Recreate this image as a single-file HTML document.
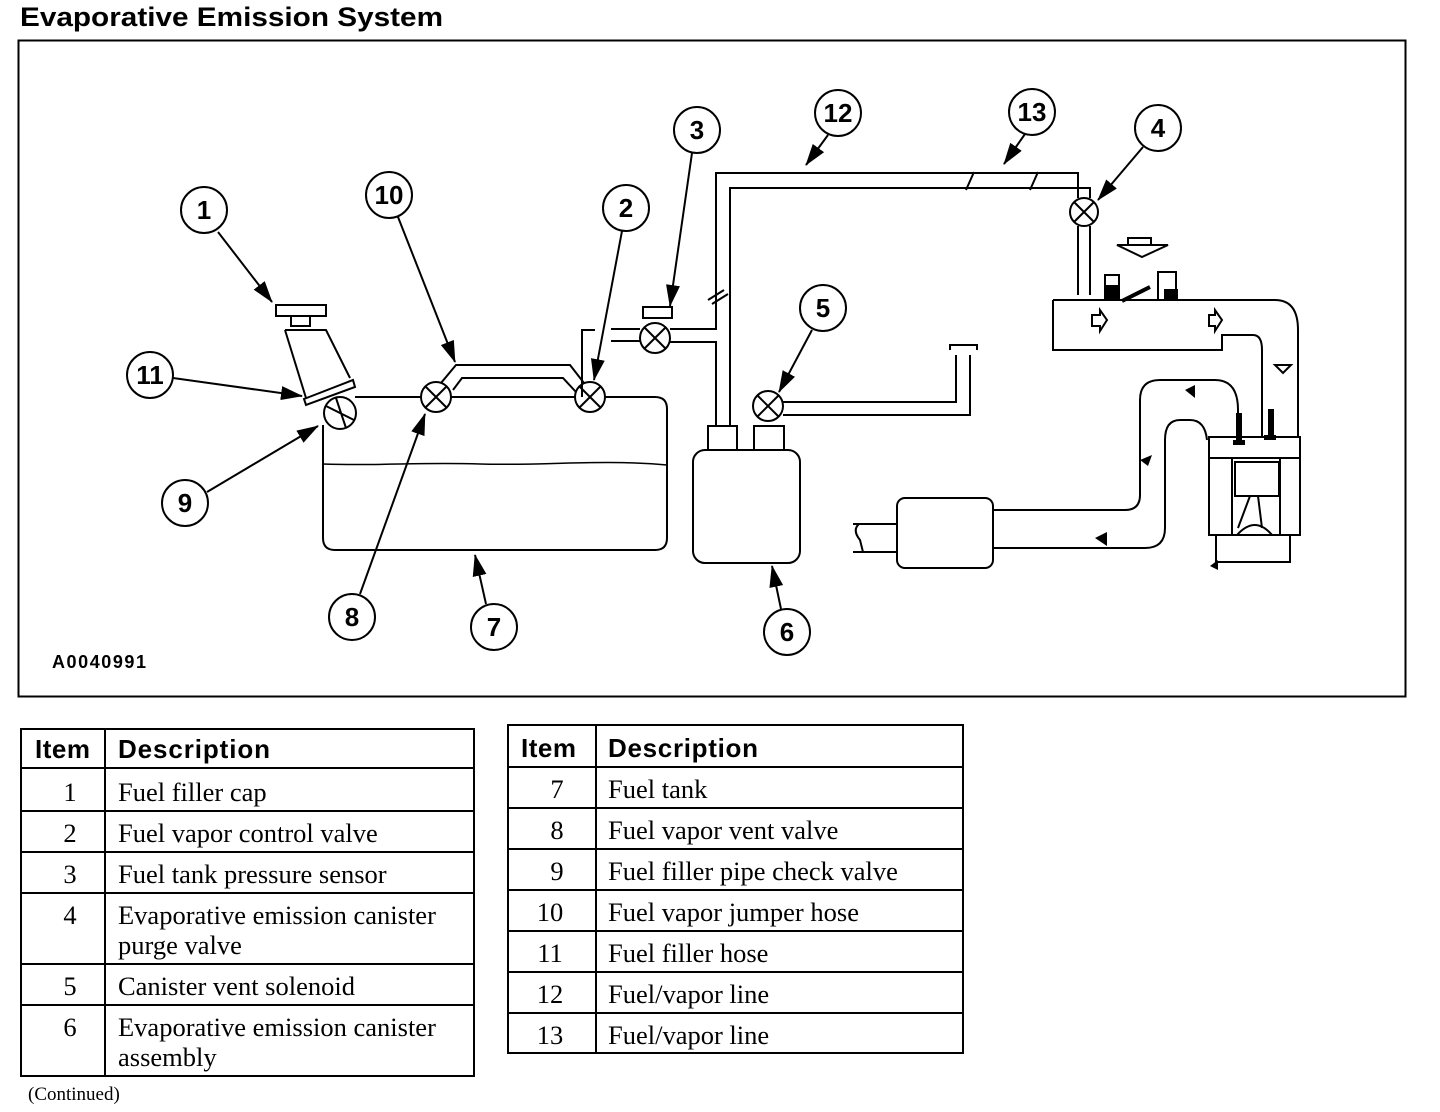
<!DOCTYPE html>
<html><head><meta charset="utf-8"><style>
body{margin:0;background:#fff;}
svg{display:block}
.t{font-family:"Liberation Sans",sans-serif;font-weight:bold}
.s{font-family:"Liberation Serif",serif;font-size:26.5px}
</style></head><body>
<svg width="1440" height="1112" viewBox="0 0 1440 1112" xmlns="http://www.w3.org/2000/svg">
<defs><marker id="A" markerWidth="22" markerHeight="14" refX="21" refY="7" orient="auto" markerUnits="userSpaceOnUse"><path d="M0,0L22,7L0,14z" fill="#000"/></marker></defs>
<text x="20" y="26" class="t" font-size="27" textLength="423" lengthAdjust="spacingAndGlyphs">Evaporative Emission System</text>
<rect x="18.5" y="40.5" width="1387" height="656" fill="none" stroke="#000" stroke-width="2"/>
<g fill="none" stroke="#000" stroke-width="2">
<path d="M355,397H655q12,0 12,12V538q0,12-12,12H335q-12,0-12-12V425"/>
<path d="M323,464C380,466 420,462 480,464S600,459 667,465" stroke-width="1.5"/>
<rect x="276" y="305" width="50" height="11"/><rect x="291" y="316" width="19" height="10"/>
<path d="M285,330H326L350,378M285,330L306,398"/>
<path d="M304,399L353,380L355,387L306,405Z" fill="#fff"/>
<circle cx="340" cy="413" r="16"/><path d="M326,406L354,420M336,398L346,428"/>
<circle cx="436" cy="397" r="15" fill="#fff"/><path d="M426,387L446,407M446,387L426,407"/>
<circle cx="590" cy="397" r="15" fill="#fff"/><path d="M580,387L600,407M600,387L580,407"/>
<path d="M441,383L456,365H570L584,383M453,390L462,378H563L576,392"/>
<path d="M582,397V330H595"/>
<rect x="643" y="307" width="29" height="11"/>
<circle cx="655" cy="338" r="15" fill="#fff"/><path d="M645,328L665,348M665,328L645,348"/>
<path d="M611,329H640M611,341H640M670,329H716V173H1078V198M670,342H716V426M730,426V188H1090V198"/>
<path d="M708,300L724,290M712,304L728,294M966,190L974,172M1030,190L1038,172"/>
<circle cx="1084" cy="212" r="14" fill="#fff"/><path d="M1074,202L1094,222M1094,202L1074,222"/>
<path d="M1078,226V295M1090,226V295"/>
<rect x="708" y="426" width="29" height="24"/><rect x="754" y="426" width="30" height="24"/>
<rect x="693" y="450" width="107" height="113" rx="12"/>
<circle cx="768" cy="406" r="15" fill="#fff"/><path d="M758,396L778,416M778,396L758,416"/>
<path d="M783,402H956V355M783,415H970V355M950,350V345H977V350"/>
<path d="M853,524H897M853,552H897M859,524Q852,530 860,540L863,552"/>
<rect x="897" y="498" width="96" height="70" rx="8"/>
<path d="M993,510H1125Q1140,510 1140,495V400Q1140,380 1160,380H1215Q1238,380 1238,410V437M993,548H1145Q1165,548 1165,528V440Q1165,420 1180,420H1190Q1205,420 1207,440"/>
<path d="M1053,300H1275Q1298,300 1298,330V437M1053,300V350H1222V335H1253Q1262,335 1262,350V437"/>
<path d="M1117,245H1168L1142,257Z"/>
<rect x="1128" y="238" width="23" height="7"/>
<path d="M1105,300V275H1119V300M1158,300V272H1176V300"/>
<path d="M1122,301L1150,287" stroke-width="4"/>
<path d="M1092,315H1100V310L1107,320L1100,331V326H1092Z"/>
<path d="M1209,315H1215V310L1222,320L1215,331V326H1209Z"/>
<path d="M1275,365H1291L1283,373Z"/>
<path d="M1209,437H1300V535H1209Z"/><path d="M1209,458H1232V535M1300,458H1280V535M1232,458H1280"/>
<rect x="1235" y="462" width="44" height="34"/>
<path d="M1250,496L1238,528M1258,496L1262,528"/>
<path d="M1237,535Q1255,515 1272,535"/>
<path d="M1216,535V562H1290V535"/>
</g>
<g fill="#000">
<rect x="1106" y="285" width="12" height="14"/><rect x="1164" y="289" width="14" height="10"/>
<rect x="1236" y="413" width="6" height="30"/><rect x="1233" y="440" width="12" height="5"/>
<rect x="1268" y="409" width="6" height="30"/><rect x="1264" y="435" width="12" height="5"/>
<path d="M1185,390L1195,385V398Z"/><path d="M1140,460L1152,455L1148,466Z"/><path d="M1095,538L1107,532V546Z"/>
<path d="M1210,566L1218,560V570Z"/>
</g>
<g fill="none" stroke="#000" stroke-width="2">
<circle cx="204" cy="210" r="23"/><circle cx="389" cy="195" r="23"/><circle cx="626" cy="208" r="23"/>
<circle cx="697" cy="130" r="23"/><circle cx="838" cy="113" r="23"/><circle cx="1032" cy="112" r="23"/>
<circle cx="1158" cy="128" r="23"/><circle cx="823" cy="308" r="23"/><circle cx="150" cy="375" r="23"/>
<circle cx="185" cy="503" r="23"/><circle cx="352" cy="617" r="23"/><circle cx="494" cy="627" r="23"/>
<circle cx="787" cy="632" r="23"/>
</g>
<g stroke="#000" stroke-width="2" marker-end="url(#A)">
<line x1="218" y1="232" x2="272" y2="302"/><line x1="398" y1="217" x2="455" y2="362"/>
<line x1="622" y1="231" x2="594" y2="380"/><line x1="692" y1="153" x2="670" y2="306"/>
<line x1="828" y1="135" x2="806" y2="165"/><line x1="1025" y1="134" x2="1004" y2="164"/>
<line x1="1143" y1="147" x2="1098" y2="200"/><line x1="812" y1="330" x2="779" y2="392"/>
<line x1="173" y1="378" x2="302" y2="396"/><line x1="207" y1="492" x2="318" y2="426"/>
<line x1="360" y1="594" x2="425" y2="414"/><line x1="486" y1="604" x2="475" y2="555"/>
<line x1="781" y1="609" x2="772" y2="566"/>
</g>
<g class="t" font-size="26" text-anchor="middle">
<text x="204" y="219">1</text><text x="389" y="204">10</text><text x="626" y="217">2</text>
<text x="697" y="139">3</text><text x="838" y="122">12</text><text x="1032" y="121">13</text>
<text x="1158" y="137">4</text><text x="823" y="317">5</text><text x="150" y="384">11</text>
<text x="185" y="512">9</text><text x="352" y="626">8</text><text x="494" y="636">7</text>
<text x="787" y="641">6</text>
</g>
<text x="52" y="668" class="t" font-size="18" textLength="94">A0040991</text>
<g fill="none" stroke="#000" stroke-width="2">
<rect x="21" y="729" width="453" height="347"/>
<path d="M105,729V1076M21,768H474M21,811H474M21,852H474M21,893H474M21,964H474M21,1005H474"/>
<rect x="508" y="725" width="455" height="328"/>
<path d="M596,725V1053M508,767H963M508,808H963M508,849H963M508,890H963M508,931H963M508,972H963M508,1013H963"/>
</g>
<g class="t" font-size="26"><text x="35" y="758" textLength="55">Item</text><text x="118" y="758" textLength="152">Description</text>
<text x="521" y="757" textLength="55">Item</text><text x="608" y="757" textLength="150">Description</text></g>
<g class="s">
<text x="70" y="801" text-anchor="middle">1</text><text x="118" y="801">Fuel filler cap</text>
<text x="70" y="842" text-anchor="middle">2</text><text x="118" y="842">Fuel vapor control valve</text>
<text x="70" y="883" text-anchor="middle">3</text><text x="118" y="883">Fuel tank pressure sensor</text>
<text x="70" y="924" text-anchor="middle">4</text><text x="118" y="924">Evaporative emission canister</text><text x="118" y="954">purge valve</text>
<text x="70" y="995" text-anchor="middle">5</text><text x="118" y="995">Canister vent solenoid</text>
<text x="70" y="1036" text-anchor="middle">6</text><text x="118" y="1036">Evaporative emission canister</text><text x="118" y="1066">assembly</text>
<text x="557" y="798" text-anchor="middle">7</text><text x="608" y="798">Fuel tank</text>
<text x="557" y="839" text-anchor="middle">8</text><text x="608" y="839">Fuel vapor vent valve</text>
<text x="557" y="880" text-anchor="middle">9</text><text x="608" y="880">Fuel filler pipe check valve</text>
<text x="550" y="921" text-anchor="middle">10</text><text x="608" y="921">Fuel vapor jumper hose</text>
<text x="550" y="962" text-anchor="middle">11</text><text x="608" y="962">Fuel filler hose</text>
<text x="550" y="1003" text-anchor="middle">12</text><text x="608" y="1003">Fuel/vapor line</text>
<text x="550" y="1044" text-anchor="middle">13</text><text x="608" y="1044">Fuel/vapor line</text>
</g>
<text x="28" y="1100" style="font-family:'Liberation Serif',serif;font-size:19px">(Continued)</text>
</svg>
</body></html>
